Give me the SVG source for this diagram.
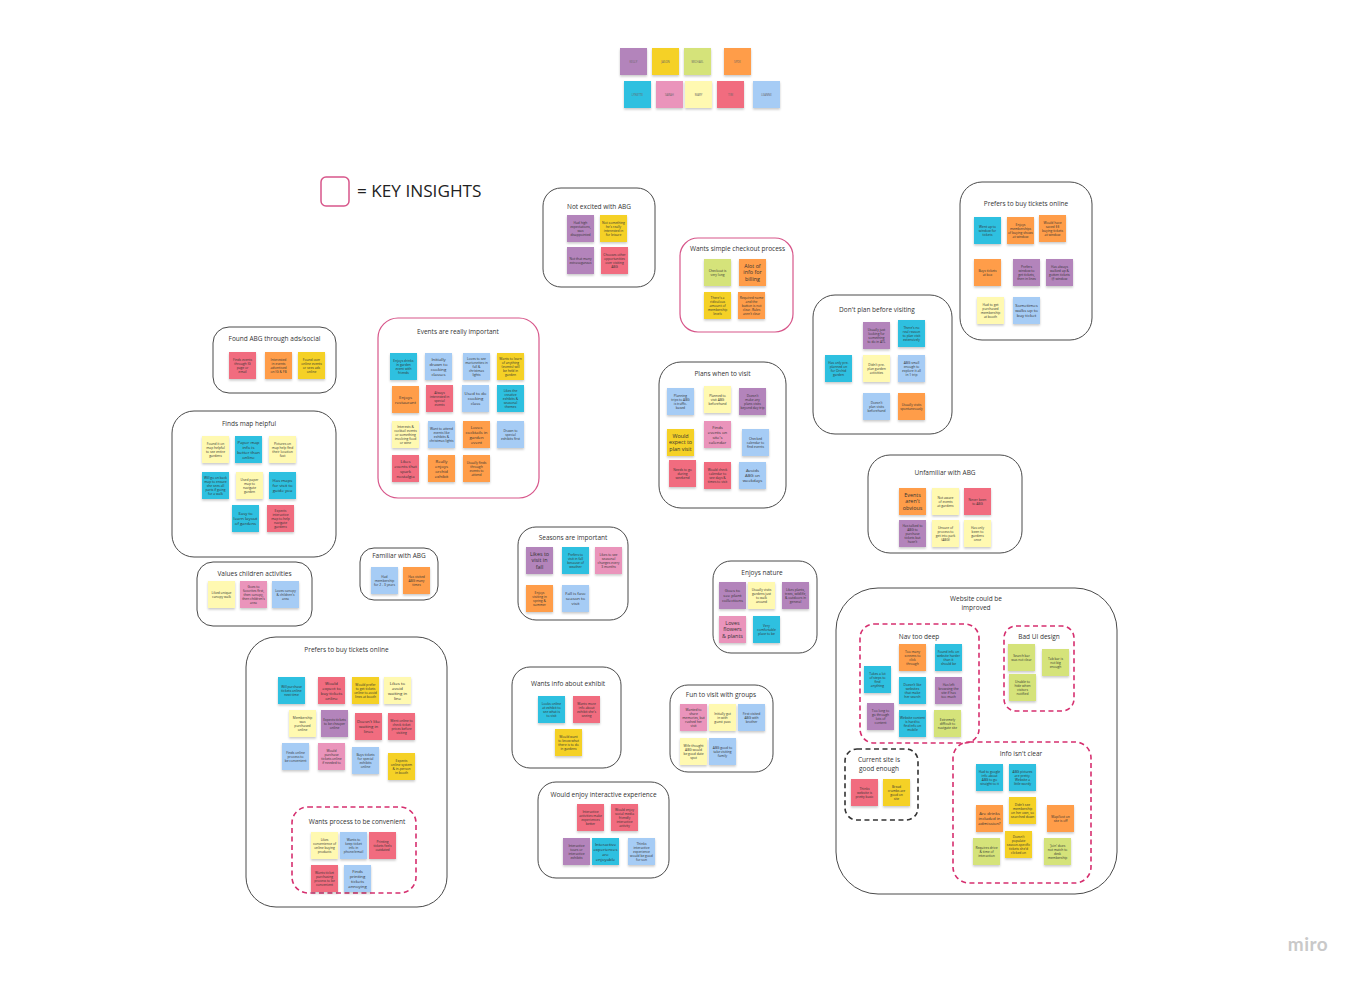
<svg xmlns="http://www.w3.org/2000/svg" width="1362" height="984" viewBox="0 0 1362 984">
<defs>
<filter id="sh" x="-20%" y="-20%" width="140%" height="160%"><feDropShadow dx="0" dy="1.5" stdDeviation="1" flood-color="#000" flood-opacity="0.22"/></filter>
<style>
text{font-family:"Open Sans","Liberation Sans",sans-serif;fill:#333;text-anchor:middle}
.note rect{filter:url(#sh)}
.pu{fill:#b384bb}.ye{fill:#f5d128}.li{fill:#d5e37a}.or{fill:#ff9d48}.cy{fill:#2ec0e0}
.pk{fill:#ea94bb}.ly{fill:#fff9b1}.re{fill:#f16c7f}.bl{fill:#a6ccf5}
.s{font-size:3.3px}.m{font-size:4.3px}.b{font-size:5.4px}.lg{font-size:2.8px;fill:#666}
.fr{fill:none;stroke:#4a4a4a;stroke-width:1}
.fp{fill:none;stroke:#d7568a;stroke-width:1.2}
.fd{fill:none;stroke:#d62f6f;stroke-width:1.6;stroke-dasharray:5 3.5}
.fk{fill:none;stroke:#333;stroke-width:1.6;stroke-dasharray:5 3.5}
.tt{font-size:6.5px}
</style>
</defs>
<rect width="1362" height="984" fill="#fff"/>

<!-- legend -->
<g id="legend">
<g class="note" transform="translate(620 48)"><rect class="pu" width="27" height="27"/><text class="lg" x="13.5" y="14.5">KELLY</text></g>
<g class="note" transform="translate(652 48)"><rect class="ye" width="27" height="27"/><text class="lg" x="13.5" y="14.5">JASON</text></g>
<g class="note" transform="translate(684 48)"><rect class="li" width="27" height="27"/><text class="lg" x="13.5" y="14.5">MICHAEL</text></g>
<g class="note" transform="translate(724 48)"><rect class="or" width="27" height="27"/><text class="lg" x="13.5" y="14.5">SPDE</text></g>
<g class="note" transform="translate(624 81)"><rect class="cy" width="27" height="27"/><text class="lg" x="13.5" y="14.5">LYNETTE</text></g>
<g class="note" transform="translate(656 81)"><rect class="pk" width="27" height="27"/><text class="lg" x="13.5" y="14.5">SARAH</text></g>
<g class="note" transform="translate(685 81)"><rect class="ly" width="27" height="27"/><text class="lg" x="13.5" y="14.5">MARY</text></g>
<g class="note" transform="translate(717 81)"><rect class="re" width="27" height="27"/><text class="lg" x="13.5" y="14.5">TIM</text></g>
<g class="note" transform="translate(753 81)"><rect class="bl" width="27" height="27"/><text class="lg" x="13.5" y="14.5">LEANNE</text></g>
</g>

<g id="key">
<rect x="321" y="177" width="28" height="29" rx="5" fill="none" stroke="#d7568a" stroke-width="1.5"/>
<text x="357" y="197" style="font-size:17.2px;text-anchor:start;fill:#222">= KEY INSIGHTS</text>
</g>

<g id="connectors"/>

<!-- Found ABG -->
<g id="found-abg">
<rect class="fr" x="213" y="327" width="123" height="66" rx="16"/>
<text class="tt" x="274.5" y="341">Found ABG through ads/social</text>
<g class="note" transform="translate(229 352)"><rect class="re" width="27" height="27"/><text class="s" y="8.65"><tspan x="13.5">Finds events</tspan><tspan x="13.5" dy="4">through IG</tspan><tspan x="13.5" dy="4">page or</tspan><tspan x="13.5" dy="4">email</tspan></text></g>
<g class="note" transform="translate(265 352)"><rect class="or" width="27" height="27"/><text class="s" y="8.65"><tspan x="13.5">Interested</tspan><tspan x="13.5" dy="4">in events</tspan><tspan x="13.5" dy="4">advertised</tspan><tspan x="13.5" dy="4">on IG &amp; FB</tspan></text></g>
<g class="note" transform="translate(298 352)"><rect class="ye" width="27" height="27"/><text class="s" y="8.65"><tspan x="13.5">Found over</tspan><tspan x="13.5" dy="4">online events</tspan><tspan x="13.5" dy="4">or sees ads</tspan><tspan x="13.5" dy="4">online</tspan></text></g>
</g>

<!-- Events -->
<g id="events">
<rect class="fp" x="378" y="318" width="161" height="180" rx="20"/>
<text class="tt" x="458" y="334">Events are really important</text>
<g class="note" transform="translate(390 353)"><rect class="cy" width="27" height="27"/><text class="s" y="8.65"><tspan x="13.5">Enjoys drinks</tspan><tspan x="13.5" dy="4">in garden</tspan><tspan x="13.5" dy="4">event with</tspan><tspan x="13.5" dy="4">friends</tspan></text></g>
<g class="note" transform="translate(425 353)"><rect class="bl" width="27" height="27"/><text class="m" y="7.5"><tspan x="13.5">Initially</tspan><tspan x="13.5" dy="5">drawn to</tspan><tspan x="13.5" dy="5">cooking</tspan><tspan x="13.5" dy="5">classes</tspan></text></g>
<g class="note" transform="translate(463 353)"><rect class="bl" width="27" height="27"/><text class="s" y="6.65"><tspan x="13.5">Loves to see</tspan><tspan x="13.5" dy="4">marionettes in</tspan><tspan x="13.5" dy="4">fall &amp;</tspan><tspan x="13.5" dy="4">christmas</tspan><tspan x="13.5" dy="4">lights</tspan></text></g>
<g class="note" transform="translate(497 353)"><rect class="ye" width="27" height="27"/><text class="s" y="6.65"><tspan x="13.5">Wants to learn</tspan><tspan x="13.5" dy="4">of anything</tspan><tspan x="13.5" dy="4">(events) will</tspan><tspan x="13.5" dy="4">be held in</tspan><tspan x="13.5" dy="4">garden</tspan></text></g>
<g class="note" transform="translate(392 386)"><rect class="or" width="27" height="27"/><text class="m" y="12.5"><tspan x="13.5">Enjoys</tspan><tspan x="13.5" dy="5">restaurant</tspan></text></g>
<g class="note" transform="translate(426 385)"><rect class="re" width="27" height="27"/><text class="s" y="8.65"><tspan x="13.5">Always</tspan><tspan x="13.5" dy="4">interested in</tspan><tspan x="13.5" dy="4">special</tspan><tspan x="13.5" dy="4">events</tspan></text></g>
<g class="note" transform="translate(462 385)"><rect class="bl" width="27" height="27"/><text class="m" y="10"><tspan x="13.5">Used to do</tspan><tspan x="13.5" dy="5">cooking</tspan><tspan x="13.5" dy="5">class</tspan></text></g>
<g class="note" transform="translate(497 385)"><rect class="cy" width="27" height="27"/><text class="s" y="6.65"><tspan x="13.5">Likes the</tspan><tspan x="13.5" dy="4">creative</tspan><tspan x="13.5" dy="4">exhibits &amp;</tspan><tspan x="13.5" dy="4">seasonal</tspan><tspan x="13.5" dy="4">themes</tspan></text></g>
<g class="note" transform="translate(392 421)"><rect class="ly" width="27" height="27"/><text class="s" y="6.65"><tspan x="13.5">Interests &amp;</tspan><tspan x="13.5" dy="4">cocktail events</tspan><tspan x="13.5" dy="4">or something</tspan><tspan x="13.5" dy="4">involving food</tspan><tspan x="13.5" dy="4">or wine</tspan></text></g>
<g class="note" transform="translate(428 421)"><rect class="bl" width="27" height="27"/><text class="s" y="8.65"><tspan x="13.5">Want to attend</tspan><tspan x="13.5" dy="4">events like</tspan><tspan x="13.5" dy="4">exhibits &amp;</tspan><tspan x="13.5" dy="4">christmas lights</tspan></text></g>
<g class="note" transform="translate(463 421)"><rect class="or" width="27" height="27"/><text class="m" y="7.5"><tspan x="13.5">Loves</tspan><tspan x="13.5" dy="5">cocktails in</tspan><tspan x="13.5" dy="5">garden</tspan><tspan x="13.5" dy="5">event</tspan></text></g>
<g class="note" transform="translate(497 421)"><rect class="bl" width="27" height="27"/><text class="s" y="10.65"><tspan x="13.5">Drawn to</tspan><tspan x="13.5" dy="4">special</tspan><tspan x="13.5" dy="4">exhibits first</tspan></text></g>
<g class="note" transform="translate(392 455)"><rect class="re" width="27" height="27"/><text class="m" y="7.5"><tspan x="13.5">Likes</tspan><tspan x="13.5" dy="5">events that</tspan><tspan x="13.5" dy="5">spark</tspan><tspan x="13.5" dy="5">nostalgia</tspan></text></g>
<g class="note" transform="translate(428 455)"><rect class="or" width="27" height="27"/><text class="m" y="7.5"><tspan x="13.5">Really</tspan><tspan x="13.5" dy="5">enjoys</tspan><tspan x="13.5" dy="5">orchid</tspan><tspan x="13.5" dy="5">exhibit</tspan></text></g>
<g class="note" transform="translate(463 455)"><rect class="or" width="27" height="27"/><text class="s" y="8.65"><tspan x="13.5">Usually finds</tspan><tspan x="13.5" dy="4">through</tspan><tspan x="13.5" dy="4">events to</tspan><tspan x="13.5" dy="4">attend</tspan></text></g>
</g>

<!-- Finds map helpful -->
<g id="finds-map">
<rect class="fr" x="172" y="411" width="164" height="146" rx="22"/>
<text class="tt" x="249" y="426">Finds map helpful</text>
<g class="note" transform="translate(202 436)"><rect class="ly" width="27" height="27"/><text class="s" y="8.65"><tspan x="13.5">Found it on</tspan><tspan x="13.5" dy="4">map helpful</tspan><tspan x="13.5" dy="4">to see entire</tspan><tspan x="13.5" dy="4">gardens</tspan></text></g>
<g class="note" transform="translate(235 436)"><rect class="cy" width="27" height="27"/><text class="m" y="7.5"><tspan x="13.5">Paper map</tspan><tspan x="13.5" dy="5">info is</tspan><tspan x="13.5" dy="5">better than</tspan><tspan x="13.5" dy="5">online</tspan></text></g>
<g class="note" transform="translate(269 436)"><rect class="ly" width="27" height="27"/><text class="s" y="8.65"><tspan x="13.5">Pictures on</tspan><tspan x="13.5" dy="4">map help find</tspan><tspan x="13.5" dy="4">their location</tspan><tspan x="13.5" dy="4">fast</tspan></text></g>
<g class="note" transform="translate(202 472)"><rect class="cy" width="27" height="27"/><text class="s" y="6.65"><tspan x="13.5">Will go on back</tspan><tspan x="13.5" dy="4">map to ensure</tspan><tspan x="13.5" dy="4">she sees all</tspan><tspan x="13.5" dy="4">parts if going</tspan><tspan x="13.5" dy="4">for a walk</tspan></text></g>
<g class="note" transform="translate(236 472)"><rect class="ly" width="27" height="27"/><text class="s" y="8.65"><tspan x="13.5">Used paper</tspan><tspan x="13.5" dy="4">map to</tspan><tspan x="13.5" dy="4">navigate</tspan><tspan x="13.5" dy="4">garden</tspan></text></g>
<g class="note" transform="translate(269 472)"><rect class="cy" width="27" height="27"/><text class="m" y="10"><tspan x="13.5">Has maps</tspan><tspan x="13.5" dy="5">for visit to</tspan><tspan x="13.5" dy="5">guide you</tspan></text></g>
<g class="note" transform="translate(232 505)"><rect class="cy" width="27" height="27"/><text class="m" y="10"><tspan x="13.5">Easy to</tspan><tspan x="13.5" dy="5">learn layout</tspan><tspan x="13.5" dy="5">of gardens</tspan></text></g>
<g class="note" transform="translate(267 505)"><rect class="re" width="27" height="27"/><text class="s" y="6.65"><tspan x="13.5">Expects</tspan><tspan x="13.5" dy="4">interactive</tspan><tspan x="13.5" dy="4">map to help</tspan><tspan x="13.5" dy="4">navigate</tspan><tspan x="13.5" dy="4">gardens</tspan></text></g>
</g>

<!-- Values children -->
<g id="values-children">
<rect class="fr" x="197" y="562" width="115" height="64" rx="16"/>
<text class="tt" x="254.5" y="576">Values children activities</text>
<g class="note" transform="translate(208 581)"><rect class="ly" width="27" height="27"/><text class="s" y="12.65"><tspan x="13.5">Liked unique</tspan><tspan x="13.5" dy="4">canopy walk</tspan></text></g>
<g class="note" transform="translate(240 581)"><rect class="pk" width="27" height="27"/><text class="s" y="6.65"><tspan x="13.5">Goes to</tspan><tspan x="13.5" dy="4">favorites first,</tspan><tspan x="13.5" dy="4">then canopy,</tspan><tspan x="13.5" dy="4">then children's</tspan><tspan x="13.5" dy="4">area</tspan></text></g>
<g class="note" transform="translate(272 581)"><rect class="bl" width="27" height="27"/><text class="s" y="10.65"><tspan x="13.5">Loves canopy</tspan><tspan x="13.5" dy="4">&amp; children's</tspan><tspan x="13.5" dy="4">area</tspan></text></g>
</g>

<!-- Familiar -->
<g id="familiar-abg">
<rect class="fr" x="360" y="548" width="78" height="52" rx="14"/>
<text class="tt" x="399" y="558">Familiar with ABG</text>
<g class="note" transform="translate(371 567)"><rect class="bl" width="27" height="27"/><text class="s" y="10.65"><tspan x="13.5">Had</tspan><tspan x="13.5" dy="4">membership</tspan><tspan x="13.5" dy="4">for 2 - 3 years</tspan></text></g>
<g class="note" transform="translate(403 567)"><rect class="or" width="27" height="27"/><text class="s" y="10.65"><tspan x="13.5">Has visited</tspan><tspan x="13.5" dy="4">ABG many</tspan><tspan x="13.5" dy="4">times</tspan></text></g>
</g>

<!-- Not excited -->
<g id="not-excited">
<rect class="fr" x="543" y="188" width="112" height="99" rx="18"/>
<text class="tt" x="599" y="209">Not excited with ABG</text>
<g class="note" transform="translate(567 215)"><rect class="pu" width="27" height="27"/><text class="s" y="8.65"><tspan x="13.5">Had high</tspan><tspan x="13.5" dy="4">expectations,</tspan><tspan x="13.5" dy="4">was</tspan><tspan x="13.5" dy="4">disappointed</tspan></text></g>
<g class="note" transform="translate(600 215)"><rect class="ye" width="27" height="27"/><text class="s" y="8.65"><tspan x="13.5">Not something</tspan><tspan x="13.5" dy="4">he's really</tspan><tspan x="13.5" dy="4">interested in</tspan><tspan x="13.5" dy="4">for leisure</tspan></text></g>
<g class="note" transform="translate(567 247)"><rect class="pu" width="27" height="27"/><text class="s" y="12.65"><tspan x="13.5">Not that many</tspan><tspan x="13.5" dy="4">extravaganzas</tspan></text></g>
<g class="note" transform="translate(601 247)"><rect class="re" width="27" height="27"/><text class="s" y="8.65"><tspan x="13.5">Chooses other</tspan><tspan x="13.5" dy="4">opportunities</tspan><tspan x="13.5" dy="4">over visiting</tspan><tspan x="13.5" dy="4">ABG</tspan></text></g>
</g>

<!-- Checkout -->
<g id="simple-checkout">
<rect class="fp" x="680" y="238" width="113" height="94" rx="18"/>
<text class="tt" x="737.5" y="251">Wants simple checkout process</text>
<g class="note" transform="translate(704 259)"><rect class="li" width="27" height="27"/><text class="s" y="12.65"><tspan x="13.5">Checkout is</tspan><tspan x="13.5" dy="4">very long</tspan></text></g>
<g class="note" transform="translate(739 259)"><rect class="or" width="27" height="27"/><text class="b" y="9.2"><tspan x="13.5">Alot of</tspan><tspan x="13.5" dy="6.2">info for</tspan><tspan x="13.5" dy="6.2">billing</tspan></text></g>
<g class="note" transform="translate(704 292)"><rect class="ye" width="27" height="27"/><text class="s" y="6.65"><tspan x="13.5">There's a</tspan><tspan x="13.5" dy="4">ridiculous</tspan><tspan x="13.5" dy="4">amount of</tspan><tspan x="13.5" dy="4">membership</tspan><tspan x="13.5" dy="4">levels</tspan></text></g>
<g class="note" transform="translate(738 292)"><rect class="or" width="27" height="27"/><text class="s" y="6.65"><tspan x="13.5">Required name</tspan><tspan x="13.5" dy="4">and the</tspan><tspan x="13.5" dy="4">button is not</tspan><tspan x="13.5" dy="4">clear. Rules</tspan><tspan x="13.5" dy="4">aren't clear</tspan></text></g>
</g>

<!-- Plans when to visit -->
<g id="plans-visit">
<rect class="fr" x="659" y="362" width="127" height="146" rx="22"/>
<text class="tt" x="722.5" y="376">Plans when to visit</text>
<g class="note" transform="translate(667 388)"><rect class="bl" width="27" height="27"/><text class="s" y="8.65"><tspan x="13.5">Planning</tspan><tspan x="13.5" dy="4">trips to ABG</tspan><tspan x="13.5" dy="4">is traffic-</tspan><tspan x="13.5" dy="4">based</tspan></text></g>
<g class="note" transform="translate(704 386)"><rect class="ly" width="27" height="27"/><text class="s" y="10.65"><tspan x="13.5">Planned to</tspan><tspan x="13.5" dy="4">visit ABG</tspan><tspan x="13.5" dy="4">beforehand</tspan></text></g>
<g class="note" transform="translate(739 388)"><rect class="pu" width="27" height="27"/><text class="s" y="8.65"><tspan x="13.5">Doesn't</tspan><tspan x="13.5" dy="4">make any</tspan><tspan x="13.5" dy="4">plans visits</tspan><tspan x="13.5" dy="4">beyond day trip</tspan></text></g>
<g class="note" transform="translate(667 429)"><rect class="ye" width="27" height="27"/><text class="b" y="9.2"><tspan x="13.5">Would</tspan><tspan x="13.5" dy="6.2">expect to</tspan><tspan x="13.5" dy="6.2">plan visit</tspan></text></g>
<g class="note" transform="translate(704 421)"><rect class="pk" width="27" height="27"/><text class="m" y="7.5"><tspan x="13.5">Finds</tspan><tspan x="13.5" dy="5">events on</tspan><tspan x="13.5" dy="5">site's</tspan><tspan x="13.5" dy="5">calendar</tspan></text></g>
<g class="note" transform="translate(742 429)"><rect class="bl" width="27" height="27"/><text class="s" y="10.65"><tspan x="13.5">Checked</tspan><tspan x="13.5" dy="4">calendar to</tspan><tspan x="13.5" dy="4">find events</tspan></text></g>
<g class="note" transform="translate(669 460)"><rect class="re" width="27" height="27"/><text class="s" y="10.65"><tspan x="13.5">Needs to go</tspan><tspan x="13.5" dy="4">during</tspan><tspan x="13.5" dy="4">weekend</tspan></text></g>
<g class="note" transform="translate(704 462)"><rect class="re" width="27" height="27"/><text class="s" y="8.65"><tspan x="13.5">Would check</tspan><tspan x="13.5" dy="4">calendar to</tspan><tspan x="13.5" dy="4">see days &amp;</tspan><tspan x="13.5" dy="4">times to visit</tspan></text></g>
<g class="note" transform="translate(739 462)"><rect class="bl" width="27" height="27"/><text class="m" y="10"><tspan x="13.5">Avoids</tspan><tspan x="13.5" dy="5">ABG on</tspan><tspan x="13.5" dy="5">weekdays</tspan></text></g>
</g>

<!-- Don't plan -->
<g id="dont-plan">
<rect class="fr" x="813" y="295" width="139" height="139" rx="22"/>
<text class="tt" x="877" y="312">Don't plan before visiting</text>
<g class="note" transform="translate(863 322)"><rect class="pu" width="27" height="27"/><text class="s" y="8.65"><tspan x="13.5">Usually just</tspan><tspan x="13.5" dy="4">looking for</tspan><tspan x="13.5" dy="4">something</tspan><tspan x="13.5" dy="4">to do in ATL</tspan></text></g>
<g class="note" transform="translate(898 320)"><rect class="cy" width="27" height="27"/><text class="s" y="8.65"><tspan x="13.5">There's no</tspan><tspan x="13.5" dy="4">real reason</tspan><tspan x="13.5" dy="4">to plan visit</tspan><tspan x="13.5" dy="4">extensively</tspan></text></g>
<g class="note" transform="translate(825 355)"><rect class="cy" width="27" height="27"/><text class="s" y="8.65"><tspan x="13.5">Has only pre-</tspan><tspan x="13.5" dy="4">planned on</tspan><tspan x="13.5" dy="4">for Orchid</tspan><tspan x="13.5" dy="4">garden</tspan></text></g>
<g class="note" transform="translate(863 355)"><rect class="ly" width="27" height="27"/><text class="s" y="10.65"><tspan x="13.5">Didn't pre-</tspan><tspan x="13.5" dy="4">plan garden</tspan><tspan x="13.5" dy="4">activities</tspan></text></g>
<g class="note" transform="translate(898 355)"><rect class="bl" width="27" height="27"/><text class="s" y="8.65"><tspan x="13.5">ABG small</tspan><tspan x="13.5" dy="4">enough to</tspan><tspan x="13.5" dy="4">explore it all</tspan><tspan x="13.5" dy="4">in 1 trip</tspan></text></g>
<g class="note" transform="translate(863 393)"><rect class="bl" width="27" height="27"/><text class="s" y="10.65"><tspan x="13.5">Doesn't</tspan><tspan x="13.5" dy="4">plan visits</tspan><tspan x="13.5" dy="4">beforehand</tspan></text></g>
<g class="note" transform="translate(898 393)"><rect class="or" width="27" height="27"/><text class="s" y="12.65"><tspan x="13.5">Usually visits</tspan><tspan x="13.5" dy="4">spontaneously</tspan></text></g>
</g>

<!-- Prefers tickets online (top right) -->
<g id="prefers-online-1">
<rect class="fr" x="960" y="182" width="132" height="158" rx="22"/>
<text class="tt" x="1026" y="206">Prefers to buy tickets online</text>
<g class="note" transform="translate(974 217)"><rect class="cy" width="27" height="27"/><text class="s" y="10.65"><tspan x="13.5">Went up to</tspan><tspan x="13.5" dy="4">window for</tspan><tspan x="13.5" dy="4">tickets</tspan></text></g>
<g class="note" transform="translate(1007 217)"><rect class="or" width="27" height="27"/><text class="s" y="8.65"><tspan x="13.5">Enjoys</tspan><tspan x="13.5" dy="4">memberships</tspan><tspan x="13.5" dy="4">of buying shows</tspan><tspan x="13.5" dy="4">at window</tspan></text></g>
<g class="note" transform="translate(1039 215)"><rect class="or" width="27" height="27"/><text class="s" y="8.65"><tspan x="13.5">Would have</tspan><tspan x="13.5" dy="4">saved $$</tspan><tspan x="13.5" dy="4">buying tickets</tspan><tspan x="13.5" dy="4">at window</tspan></text></g>
<g class="note" transform="translate(974 259)"><rect class="or" width="27" height="27"/><text class="s" y="12.65"><tspan x="13.5">Buys tickets</tspan><tspan x="13.5" dy="4">at box</tspan></text></g>
<g class="note" transform="translate(1013 259)"><rect class="pu" width="27" height="27"/><text class="s" y="8.65"><tspan x="13.5">Prefers</tspan><tspan x="13.5" dy="4">window to</tspan><tspan x="13.5" dy="4">get tickets,</tspan><tspan x="13.5" dy="4">then in lines</tspan></text></g>
<g class="note" transform="translate(1046 259)"><rect class="pu" width="27" height="27"/><text class="s" y="8.65"><tspan x="13.5">Has always</tspan><tspan x="13.5" dy="4">walked up &amp;</tspan><tspan x="13.5" dy="4">gotten tickets</tspan><tspan x="13.5" dy="4">@ window</tspan></text></g>
<g class="note" transform="translate(977 297)"><rect class="ly" width="27" height="27"/><text class="s" y="8.65"><tspan x="13.5">Had to get</tspan><tspan x="13.5" dy="4">purchased</tspan><tspan x="13.5" dy="4">membership</tspan><tspan x="13.5" dy="4">at booth</tspan></text></g>
<g class="note" transform="translate(1013 297)"><rect class="bl" width="27" height="27"/><text class="m" y="10"><tspan x="13.5">Sometimes</tspan><tspan x="13.5" dy="5">walks up to</tspan><tspan x="13.5" dy="5">buy ticket</tspan></text></g>
</g>

<!-- Unfamiliar -->
<g id="unfamiliar-abg">
<rect class="fr" x="868" y="455" width="154" height="98" rx="22"/>
<text class="tt" x="945" y="475">Unfamiliar with ABG</text>
<g class="note" transform="translate(899 488)"><rect class="or" width="27" height="27"/><text class="b" y="9.2"><tspan x="13.5">Events</tspan><tspan x="13.5" dy="6.2">aren't</tspan><tspan x="13.5" dy="6.2">obvious</tspan></text></g>
<g class="note" transform="translate(932 488)"><rect class="ly" width="27" height="27"/><text class="s" y="10.65"><tspan x="13.5">Not aware</tspan><tspan x="13.5" dy="4">of events</tspan><tspan x="13.5" dy="4">at gardens</tspan></text></g>
<g class="note" transform="translate(964 488)"><rect class="re" width="27" height="27"/><text class="s" y="12.65"><tspan x="13.5">Never been</tspan><tspan x="13.5" dy="4">to ABG</tspan></text></g>
<g class="note" transform="translate(899 520)"><rect class="pu" width="27" height="27"/><text class="s" y="6.65"><tspan x="13.5">Has talked to</tspan><tspan x="13.5" dy="4">ABG to</tspan><tspan x="13.5" dy="4">purchase</tspan><tspan x="13.5" dy="4">tickets but</tspan><tspan x="13.5" dy="4">hasn't</tspan></text></g>
<g class="note" transform="translate(932 520)"><rect class="ly" width="27" height="27"/><text class="s" y="8.65"><tspan x="13.5">Unsure of</tspan><tspan x="13.5" dy="4">process to</tspan><tspan x="13.5" dy="4">get into park</tspan><tspan x="13.5" dy="4">(ABG)</tspan></text></g>
<g class="note" transform="translate(964 520)"><rect class="ly" width="27" height="27"/><text class="s" y="8.65"><tspan x="13.5">Has only</tspan><tspan x="13.5" dy="4">been to</tspan><tspan x="13.5" dy="4">gardens</tspan><tspan x="13.5" dy="4">once</tspan></text></g>
</g>

<!-- Seasons -->
<g id="seasons">
<rect class="fr" x="518" y="527" width="110" height="93" rx="18"/>
<text class="tt" x="573" y="540">Seasons are important</text>
<g class="note" transform="translate(526 547)"><rect class="pu" width="27" height="27"/><text class="b" y="9.2"><tspan x="13.5">Likes to</tspan><tspan x="13.5" dy="6.2">visit in</tspan><tspan x="13.5" dy="6.2">fall</tspan></text></g>
<g class="note" transform="translate(562 547)"><rect class="cy" width="27" height="27"/><text class="s" y="8.65"><tspan x="13.5">Prefers to</tspan><tspan x="13.5" dy="4">visit in fall</tspan><tspan x="13.5" dy="4">because of</tspan><tspan x="13.5" dy="4">weather</tspan></text></g>
<g class="note" transform="translate(595 547)"><rect class="pk" width="27" height="27"/><text class="s" y="8.65"><tspan x="13.5">Likes to see</tspan><tspan x="13.5" dy="4">seasonal</tspan><tspan x="13.5" dy="4">changes every</tspan><tspan x="13.5" dy="4">3 months</tspan></text></g>
<g class="note" transform="translate(526 585)"><rect class="or" width="27" height="27"/><text class="s" y="8.65"><tspan x="13.5">Enjoys</tspan><tspan x="13.5" dy="4">visiting in</tspan><tspan x="13.5" dy="4">spring &amp;</tspan><tspan x="13.5" dy="4">summer</tspan></text></g>
<g class="note" transform="translate(562 585)"><rect class="bl" width="27" height="27"/><text class="m" y="10"><tspan x="13.5">Fall is fave</tspan><tspan x="13.5" dy="5">season to</tspan><tspan x="13.5" dy="5">visit</tspan></text></g>
</g>

<!-- Enjoys nature -->
<g id="enjoys-nature">
<rect class="fr" x="713" y="561" width="104" height="92" rx="18"/>
<text class="tt" x="762" y="575">Enjoys nature</text>
<g class="note" transform="translate(719 582)"><rect class="pu" width="27" height="27"/><text class="m" y="10"><tspan x="13.5">Goes to</tspan><tspan x="13.5" dy="5">see plant</tspan><tspan x="13.5" dy="5">collections</tspan></text></g>
<g class="note" transform="translate(748 582)"><rect class="ly" width="27" height="27"/><text class="s" y="8.65"><tspan x="13.5">Usually visits</tspan><tspan x="13.5" dy="4">gardens just</tspan><tspan x="13.5" dy="4">to walk</tspan><tspan x="13.5" dy="4">around</tspan></text></g>
<g class="note" transform="translate(782 582)"><rect class="pu" width="27" height="27"/><text class="s" y="8.65"><tspan x="13.5">Likes plants,</tspan><tspan x="13.5" dy="4">trees, wildlife,</tspan><tspan x="13.5" dy="4">&amp; outdoors in</tspan><tspan x="13.5" dy="4">general</tspan></text></g>
<g class="note" transform="translate(719 616)"><rect class="pk" width="27" height="27"/><text class="b" y="9.2"><tspan x="13.5">Loves</tspan><tspan x="13.5" dy="6.2">flowers</tspan><tspan x="13.5" dy="6.2">&amp; plants</tspan></text></g>
<g class="note" transform="translate(753 616)"><rect class="cy" width="27" height="27"/><text class="s" y="10.65"><tspan x="13.5">Very</tspan><tspan x="13.5" dy="4">comfortable</tspan><tspan x="13.5" dy="4">place to be</tspan></text></g>
</g>

<!-- Prefers online (big) -->
<g id="prefers-online-2">
<rect class="fr" x="246" y="637" width="201" height="270" rx="30"/>
<text class="tt" x="346.5" y="652">Prefers to buy tickets online</text>
<g class="note" transform="translate(278 677)"><rect class="cy" width="27" height="27"/><text class="s" y="10.65"><tspan x="13.5">Will purchase</tspan><tspan x="13.5" dy="4">tickets online</tspan><tspan x="13.5" dy="4">next time</tspan></text></g>
<g class="note" transform="translate(318 677)"><rect class="re" width="27" height="27"/><text class="m" y="7.5"><tspan x="13.5">Would</tspan><tspan x="13.5" dy="5">expect to</tspan><tspan x="13.5" dy="5">buy tickets</tspan><tspan x="13.5" dy="5">online</tspan></text></g>
<g class="note" transform="translate(352 677)"><rect class="ye" width="27" height="27"/><text class="s" y="8.65"><tspan x="13.5">Would prefer</tspan><tspan x="13.5" dy="4">to get tickets</tspan><tspan x="13.5" dy="4">online to avoid</tspan><tspan x="13.5" dy="4">lines at booth</tspan></text></g>
<g class="note" transform="translate(384 677)"><rect class="ly" width="27" height="27"/><text class="m" y="7.5"><tspan x="13.5">Likes to</tspan><tspan x="13.5" dy="5">avoid</tspan><tspan x="13.5" dy="5">waiting in</tspan><tspan x="13.5" dy="5">line</tspan></text></g>
<g class="note" transform="translate(289 710)"><rect class="ly" width="27" height="27"/><text class="s" y="8.65"><tspan x="13.5">Membership</tspan><tspan x="13.5" dy="4">was</tspan><tspan x="13.5" dy="4">purchased</tspan><tspan x="13.5" dy="4">online</tspan></text></g>
<g class="note" transform="translate(321 710)"><rect class="pu" width="27" height="27"/><text class="s" y="10.65"><tspan x="13.5">Expects tickets</tspan><tspan x="13.5" dy="4">to be cheaper</tspan><tspan x="13.5" dy="4">online</tspan></text></g>
<g class="note" transform="translate(355 713)"><rect class="re" width="27" height="27"/><text class="m" y="10"><tspan x="13.5">Doesn't like</tspan><tspan x="13.5" dy="5">waiting in</tspan><tspan x="13.5" dy="5">lines</tspan></text></g>
<g class="note" transform="translate(388 713)"><rect class="re" width="27" height="27"/><text class="s" y="8.65"><tspan x="13.5">Went online to</tspan><tspan x="13.5" dy="4">check ticket</tspan><tspan x="13.5" dy="4">prices before</tspan><tspan x="13.5" dy="4">visiting</tspan></text></g>
<g class="note" transform="translate(282 743)"><rect class="bl" width="27" height="27"/><text class="s" y="10.65"><tspan x="13.5">Finds online</tspan><tspan x="13.5" dy="4">process to</tspan><tspan x="13.5" dy="4">be convenient</tspan></text></g>
<g class="note" transform="translate(318 743)"><rect class="pk" width="27" height="27"/><text class="s" y="8.65"><tspan x="13.5">Would</tspan><tspan x="13.5" dy="4">purchase</tspan><tspan x="13.5" dy="4">tickets online</tspan><tspan x="13.5" dy="4">if needed to</tspan></text></g>
<g class="note" transform="translate(352 747)"><rect class="bl" width="27" height="27"/><text class="s" y="8.65"><tspan x="13.5">Buys tickets</tspan><tspan x="13.5" dy="4">for special</tspan><tspan x="13.5" dy="4">exhibits</tspan><tspan x="13.5" dy="4">online</tspan></text></g>
<g class="note" transform="translate(388 753)"><rect class="ye" width="27" height="27"/><text class="s" y="8.65"><tspan x="13.5">Expects</tspan><tspan x="13.5" dy="4">online system</tspan><tspan x="13.5" dy="4">&amp; in-person</tspan><tspan x="13.5" dy="4">in booth</tspan></text></g>

<g id="convenient-process">
<rect class="fd" x="292" y="807" width="124" height="86" rx="16"/>
<text class="tt" x="357" y="824">Wants process to be convenient</text>
<g class="note" transform="translate(311 832)"><rect class="ly" width="27" height="27"/><text class="s" y="8.65"><tspan x="13.5">Likes</tspan><tspan x="13.5" dy="4">convenience of</tspan><tspan x="13.5" dy="4">online buying</tspan><tspan x="13.5" dy="4">products</tspan></text></g>
<g class="note" transform="translate(340 832)"><rect class="bl" width="27" height="27"/><text class="s" y="8.65"><tspan x="13.5">Wants to</tspan><tspan x="13.5" dy="4">keep ticket</tspan><tspan x="13.5" dy="4">info in</tspan><tspan x="13.5" dy="4">phone/email</tspan></text></g>
<g class="note" transform="translate(369 832)"><rect class="re" width="27" height="27"/><text class="s" y="10.65"><tspan x="13.5">Printing</tspan><tspan x="13.5" dy="4">tickets feels</tspan><tspan x="13.5" dy="4">outdated</tspan></text></g>
<g class="note" transform="translate(311 865)"><rect class="re" width="27" height="27"/><text class="s" y="8.65"><tspan x="13.5">Wants ticket</tspan><tspan x="13.5" dy="4">purchasing</tspan><tspan x="13.5" dy="4">process to be</tspan><tspan x="13.5" dy="4">convenient</tspan></text></g>
<g class="note" transform="translate(344 865)"><rect class="bl" width="27" height="27"/><text class="m" y="7.5"><tspan x="13.5">Finds</tspan><tspan x="13.5" dy="5">printing</tspan><tspan x="13.5" dy="5">tickets</tspan><tspan x="13.5" dy="5">annoying</tspan></text></g>
</g>
</g>

<!-- Wants info -->
<g id="info-exhibit">
<rect class="fr" x="512" y="667" width="109" height="101" rx="18"/>
<text class="tt" x="568" y="686">Wants info about exhibit</text>
<g class="note" transform="translate(538 696)"><rect class="cy" width="27" height="27"/><text class="s" y="8.65"><tspan x="13.5">Looks online</tspan><tspan x="13.5" dy="4">at exhibit to</tspan><tspan x="13.5" dy="4">see what is</tspan><tspan x="13.5" dy="4">to visit</tspan></text></g>
<g class="note" transform="translate(573 696)"><rect class="re" width="27" height="27"/><text class="s" y="8.65"><tspan x="13.5">Wants more</tspan><tspan x="13.5" dy="4">info about</tspan><tspan x="13.5" dy="4">exhibit she's</tspan><tspan x="13.5" dy="4">seeing</tspan></text></g>
<g class="note" transform="translate(555 729)"><rect class="ye" width="27" height="27"/><text class="s" y="8.65"><tspan x="13.5">Would want</tspan><tspan x="13.5" dy="4">to know what</tspan><tspan x="13.5" dy="4">there is to do</tspan><tspan x="13.5" dy="4">in gardens</tspan></text></g>
</g>

<!-- Fun groups -->
<g id="fun-groups">
<rect class="fr" x="670" y="685" width="103" height="87" rx="18"/>
<text class="tt" x="721" y="697">Fun to visit with groups</text>
<g class="note" transform="translate(680 704)"><rect class="pk" width="27" height="27"/><text class="s" y="6.65"><tspan x="13.5">Wanted to</tspan><tspan x="13.5" dy="4">share</tspan><tspan x="13.5" dy="4">memories, but</tspan><tspan x="13.5" dy="4">rushed her</tspan><tspan x="13.5" dy="4">visit</tspan></text></g>
<g class="note" transform="translate(709 704)"><rect class="ly" width="27" height="27"/><text class="s" y="10.65"><tspan x="13.5">Initially got</tspan><tspan x="13.5" dy="4">in with</tspan><tspan x="13.5" dy="4">guest pass</tspan></text></g>
<g class="note" transform="translate(738 704)"><rect class="bl" width="27" height="27"/><text class="s" y="10.65"><tspan x="13.5">First visited</tspan><tspan x="13.5" dy="4">ABG with</tspan><tspan x="13.5" dy="4">brother</tspan></text></g>
<g class="note" transform="translate(680 738)"><rect class="ly" width="27" height="27"/><text class="s" y="8.65"><tspan x="13.5">Wife thought</tspan><tspan x="13.5" dy="4">ABG would</tspan><tspan x="13.5" dy="4">be good date</tspan><tspan x="13.5" dy="4">spot</tspan></text></g>
<g class="note" transform="translate(709 738)"><rect class="bl" width="27" height="27"/><text class="s" y="10.65"><tspan x="13.5">ABG good to</tspan><tspan x="13.5" dy="4">take visiting</tspan><tspan x="13.5" dy="4">family</tspan></text></g>
</g>

<!-- Interactive -->
<g id="interactive">
<rect class="fr" x="538" y="782" width="131" height="96" rx="18"/>
<text class="tt" x="603.5" y="797">Would enjoy interactive experience</text>
<g class="note" transform="translate(577 804)"><rect class="re" width="27" height="27"/><text class="s" y="8.65"><tspan x="13.5">Interactive</tspan><tspan x="13.5" dy="4">activities make</tspan><tspan x="13.5" dy="4">experiences</tspan><tspan x="13.5" dy="4">better</tspan></text></g>
<g class="note" transform="translate(611 804)"><rect class="re" width="27" height="27"/><text class="s" y="6.65"><tspan x="13.5">Would enjoy</tspan><tspan x="13.5" dy="4">social media</tspan><tspan x="13.5" dy="4">friendly</tspan><tspan x="13.5" dy="4">interactive</tspan><tspan x="13.5" dy="4">activity</tspan></text></g>
<g class="note" transform="translate(563 838)"><rect class="pu" width="27" height="27"/><text class="s" y="8.65"><tspan x="13.5">Interactive</tspan><tspan x="13.5" dy="4">tours or</tspan><tspan x="13.5" dy="4">interactive</tspan><tspan x="13.5" dy="4">exhibits</tspan></text></g>
<g class="note" transform="translate(592 838)"><rect class="cy" width="27" height="27"/><text class="m" y="7.5"><tspan x="13.5">Interactive</tspan><tspan x="13.5" dy="5">experiences</tspan><tspan x="13.5" dy="5">are</tspan><tspan x="13.5" dy="5">enjoyable</tspan></text></g>
<g class="note" transform="translate(628 838)"><rect class="bl" width="27" height="27"/><text class="s" y="6.65"><tspan x="13.5">Thinks</tspan><tspan x="13.5" dy="4">interactive</tspan><tspan x="13.5" dy="4">experience</tspan><tspan x="13.5" dy="4">would be good</tspan><tspan x="13.5" dy="4">for son</tspan></text></g>
</g>

<!-- Website -->
<g id="website">
<rect class="fr" x="836" y="588" width="281" height="306" rx="42"/>
<text class="tt" x="976" y="601">Website could be</text>
<text class="tt" x="976" y="610">improved</text>

<g id="nav-deep">
<rect class="fd" x="860" y="624" width="119" height="119" rx="14"/>
<text class="tt" x="919" y="639">Nav too deep</text>
<g class="note" transform="translate(899 644)"><rect class="or" width="27" height="27"/><text class="s" y="8.65"><tspan x="13.5">Too many</tspan><tspan x="13.5" dy="4">screens to</tspan><tspan x="13.5" dy="4">click</tspan><tspan x="13.5" dy="4">through</tspan></text></g>
<g class="note" transform="translate(935 644)"><rect class="cy" width="27" height="27"/><text class="s" y="8.65"><tspan x="13.5">Found info on</tspan><tspan x="13.5" dy="4">website harder</tspan><tspan x="13.5" dy="4">than it</tspan><tspan x="13.5" dy="4">should be</tspan></text></g>
<g class="note" transform="translate(864 666)"><rect class="cy" width="27" height="27"/><text class="s" y="8.65"><tspan x="13.5">Takes a lot</tspan><tspan x="13.5" dy="4">of steps to</tspan><tspan x="13.5" dy="4">find</tspan><tspan x="13.5" dy="4">anything</tspan></text></g>
<g class="note" transform="translate(899 677)"><rect class="cy" width="27" height="27"/><text class="s" y="8.65"><tspan x="13.5">Doesn't like</tspan><tspan x="13.5" dy="4">websites</tspan><tspan x="13.5" dy="4">that make</tspan><tspan x="13.5" dy="4">her search</tspan></text></g>
<g class="note" transform="translate(935 677)"><rect class="pu" width="27" height="27"/><text class="s" y="8.65"><tspan x="13.5">Has left</tspan><tspan x="13.5" dy="4">browsing the</tspan><tspan x="13.5" dy="4">site if has</tspan><tspan x="13.5" dy="4">too much</tspan></text></g>
<g class="note" transform="translate(867 703)"><rect class="pu" width="27" height="27"/><text class="s" y="8.65"><tspan x="13.5">Too long to</tspan><tspan x="13.5" dy="4">go through</tspan><tspan x="13.5" dy="4">lots of</tspan><tspan x="13.5" dy="4">content</tspan></text></g>
<g class="note" transform="translate(899 710)"><rect class="cy" width="27" height="27"/><text class="s" y="8.65"><tspan x="13.5">Website content</tspan><tspan x="13.5" dy="4">is hard to</tspan><tspan x="13.5" dy="4">find info on</tspan><tspan x="13.5" dy="4">mobile</tspan></text></g>
<g class="note" transform="translate(934 710)"><rect class="li" width="27" height="27"/><text class="s" y="10.65"><tspan x="13.5">Extremely</tspan><tspan x="13.5" dy="4">difficult to</tspan><tspan x="13.5" dy="4">navigate site</tspan></text></g>
</g>

<g id="bad-ui">
<rect class="fd" x="1004" y="626" width="70" height="85" rx="12"/>
<text class="tt" x="1039" y="639">Bad UI design</text>
<g class="note" transform="translate(1008 644)"><rect class="li" width="27" height="27"/><text class="s" y="12.65"><tspan x="13.5">Search bar</tspan><tspan x="13.5" dy="4">was not clear</tspan></text></g>
<g class="note" transform="translate(1042 649)"><rect class="li" width="27" height="27"/><text class="s" y="10.65"><tspan x="13.5">Tab bar is</tspan><tspan x="13.5" dy="4">not big</tspan><tspan x="13.5" dy="4">enough</tspan></text></g>
<g class="note" transform="translate(1009 674)"><rect class="li" width="27" height="27"/><text class="s" y="8.65"><tspan x="13.5">Unable to</tspan><tspan x="13.5" dy="4">hide when</tspan><tspan x="13.5" dy="4">visitors</tspan><tspan x="13.5" dy="4">notified</tspan></text></g>
</g>

<g id="current-site">
<rect class="fk" x="845" y="749" width="73" height="71" rx="12"/>
<text class="tt" x="879" y="762">Current site is</text>
<text class="tt" x="879" y="771">good enough</text>
<g class="note" transform="translate(851 779)"><rect class="re" width="27" height="27"/><text class="s" y="10.65"><tspan x="13.5">Thinks</tspan><tspan x="13.5" dy="4">website is</tspan><tspan x="13.5" dy="4">pretty basic</tspan></text></g>
<g class="note" transform="translate(883 779)"><rect class="ye" width="27" height="27"/><text class="s" y="8.65"><tspan x="13.5">Bread</tspan><tspan x="13.5" dy="4">crumbs are</tspan><tspan x="13.5" dy="4">good on</tspan><tspan x="13.5" dy="4">site</tspan></text></g>
</g>

<g id="info-unclear">
<rect class="fd" x="953" y="742" width="138" height="141" rx="16"/>
<text class="tt" x="1021" y="756">Info isn't clear</text>
<g class="note" transform="translate(976 764)"><rect class="cy" width="27" height="27"/><text class="s" y="8.65"><tspan x="13.5">Had to google</tspan><tspan x="13.5" dy="4">info about</tspan><tspan x="13.5" dy="4">ABG to go</tspan><tspan x="13.5" dy="4">straight to it</tspan></text></g>
<g class="note" transform="translate(1009 764)"><rect class="cy" width="27" height="27"/><text class="s" y="8.65"><tspan x="13.5">ABG pictures</tspan><tspan x="13.5" dy="4">are pretty.</tspan><tspan x="13.5" dy="4">Website a</tspan><tspan x="13.5" dy="4">little wordy</tspan></text></g>
<g class="note" transform="translate(1009 797)"><rect class="ye" width="27" height="27"/><text class="s" y="8.65"><tspan x="13.5">Didn't see</tspan><tspan x="13.5" dy="4">membership</tspan><tspan x="13.5" dy="4">on her own, so</tspan><tspan x="13.5" dy="4">searched down</tspan></text></g>
<g class="note" transform="translate(976 805)"><rect class="or" width="27" height="27"/><text class="m" y="10"><tspan x="13.5">Are drinks</tspan><tspan x="13.5" dy="5">included in</tspan><tspan x="13.5" dy="5">admission?</tspan></text></g>
<g class="note" transform="translate(1047 805)"><rect class="or" width="27" height="27"/><text class="s" y="12.65"><tspan x="13.5">Map/lost on</tspan><tspan x="13.5" dy="4">site is off</tspan></text></g>
<g class="note" transform="translate(1005 831)"><rect class="ye" width="27" height="27"/><text class="s" y="6.65"><tspan x="13.5">Doesn't</tspan><tspan x="13.5" dy="4">populate</tspan><tspan x="13.5" dy="4">season-specific</tspan><tspan x="13.5" dy="4">tickets she'd</tspan><tspan x="13.5" dy="4">clicked on</tspan></text></g>
<g class="note" transform="translate(973 838)"><rect class="li" width="27" height="27"/><text class="s" y="10.65"><tspan x="13.5">Requires drive</tspan><tspan x="13.5" dy="4">&amp; time of</tspan><tspan x="13.5" dy="4">interaction</tspan></text></g>
<g class="note" transform="translate(1044 838)"><rect class="li" width="27" height="27"/><text class="s" y="8.65"><tspan x="13.5">'Join' does</tspan><tspan x="13.5" dy="4">not match to</tspan><tspan x="13.5" dy="4">desk</tspan><tspan x="13.5" dy="4">membership</tspan></text></g>
</g>
</g>

<text x="1308" y="951" style="font-family:Lato,'Open Sans',sans-serif;font-size:19px;font-weight:bold;fill:#c9c9c9;letter-spacing:0.5px">miro</text>
</svg>
